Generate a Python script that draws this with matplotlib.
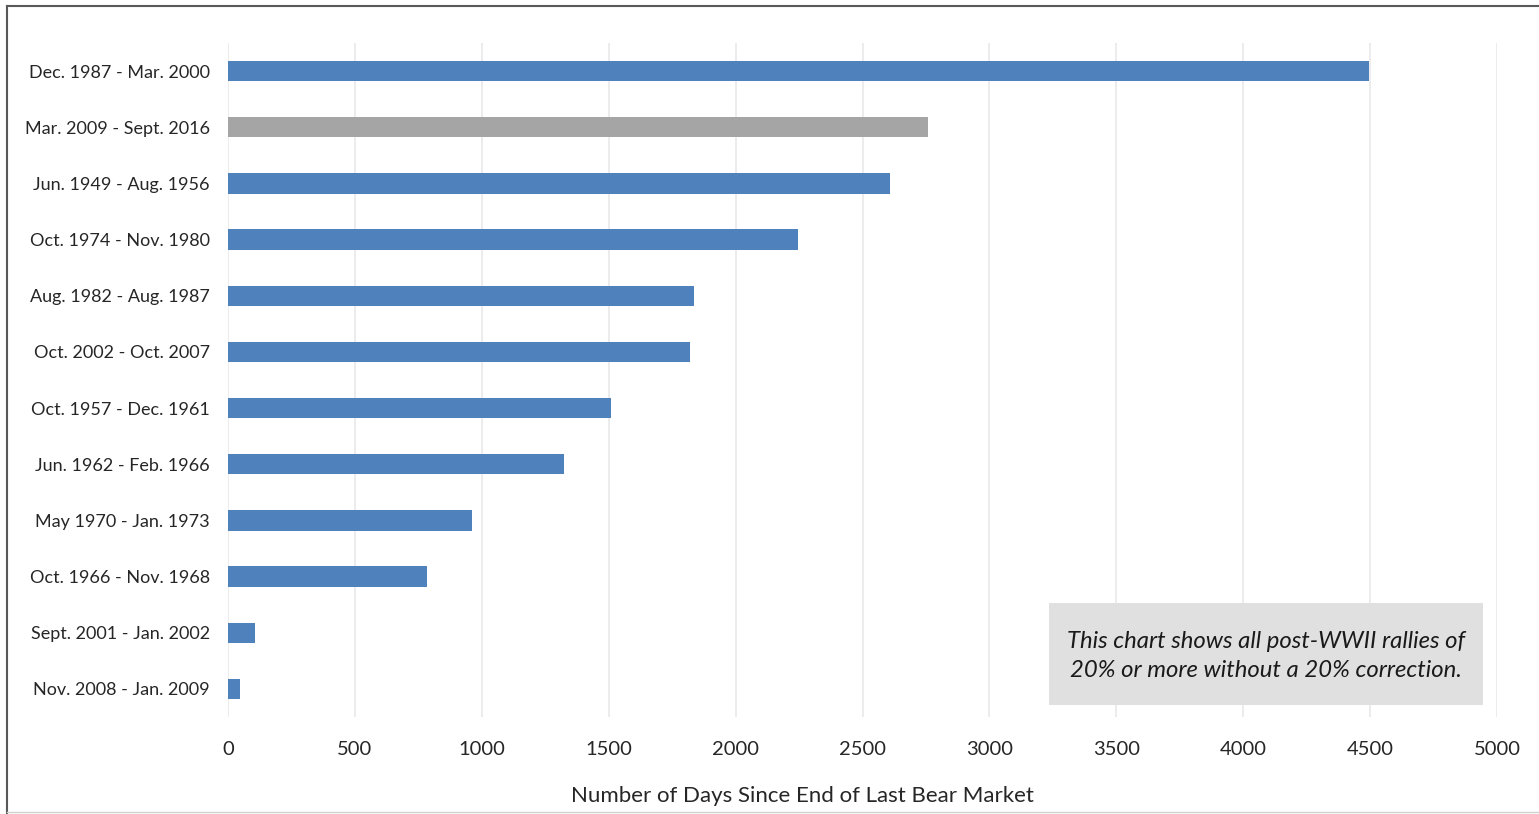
import matplotlib.pyplot as plt
from matplotlib.patches import Rectangle
from matplotlib.lines import Line2D

periods = ['Dec. 1987 - Mar. 2000', 'Mar. 2009 - Sept. 2016', 'Jun. 1949 - Aug. 1956',
           'Oct. 1974 - Nov. 1980', 'Aug. 1982 - Aug. 1987', 'Oct. 2002 - Oct. 2007',
           'Oct. 1957 - Dec. 1961', 'Jun. 1962 - Feb. 1966', 'May 1970 - Jan. 1973',
           'Oct. 1966 - Nov. 1968', 'Sept. 2001 - Jan. 2002', 'Nov. 2008 - Jan. 2009']
days = [4494, 2760, 2608, 2246, 1836, 1820, 1509, 1324, 961, 784, 106, 47]
current = 'Mar. 2009 - Sept. 2016'
xticks = [0, 500, 1000, 1500, 2000, 2500, 3000, 3500, 4000, 4500, 5000]

plt.rcParams['font.family'] = ['Lato', 'DejaVu Sans']

fig = plt.figure(figsize=(15.39, 8.14), dpi=100)
ax = fig.add_axes([228 / 1539, 1 - 717 / 814, 1269 / 1539, 674 / 814])

colors = ['#A5A5A5' if p == current else '#4F81BD' for p in periods]
ax.barh(range(len(periods)), days, height=0.36, color=colors, zorder=3)

ax.set_ylim(len(periods) - 0.5, -0.5)
ax.set_xlim(0, 5000)
ax.set_yticks(range(len(periods)))
ax.set_yticklabels(periods, fontsize=13, color='#262626')
ax.set_xticks(xticks)
ax.set_xticklabels([str(t) for t in xticks], fontsize=14.5, color='#262626')
ax.tick_params(length=0)
ax.tick_params(axis='y', pad=13)
ax.tick_params(axis='x', pad=17)
ax.grid(axis='x', color='#EBEBEB', linewidth=1.3, zorder=0)
for s in ax.spines.values():
    s.set_visible(False)
ax.set_xlabel('Number of Days Since End of Last Bear Market', fontsize=16,
              color='#262626')
ax.xaxis.set_label_coords(0.453, -0.102)

# note box
ax.add_patch(Rectangle((0.647, 0.018), 0.342, 0.151, transform=ax.transAxes,
                       facecolor='#E0E0E0', edgecolor='none', zorder=4))
ax.text(0.818, 0.0905, 'This chart shows all post-WWII rallies of\n20% or more without a 20% correction.',
        transform=ax.transAxes, ha='center', va='center', fontsize=17.2,
        style='italic', color='#1A1A1A', linespacing=1.42, zorder=5)

# outer frame
fig.add_artist(Line2D([7 / 1539, 7 / 1539], [0.0, 1 - 6 / 814], color='#595959', lw=1.5))
fig.add_artist(Line2D([7 / 1539, 1.0], [1 - 6 / 814, 1 - 6 / 814], color='#595959', lw=1.5))
fig.add_artist(Line2D([7 / 1539, 1.0], [2 / 814, 2 / 814], color='#D0D0D0', lw=1))

fig.savefig('out.png', dpi=100, facecolor='white')
